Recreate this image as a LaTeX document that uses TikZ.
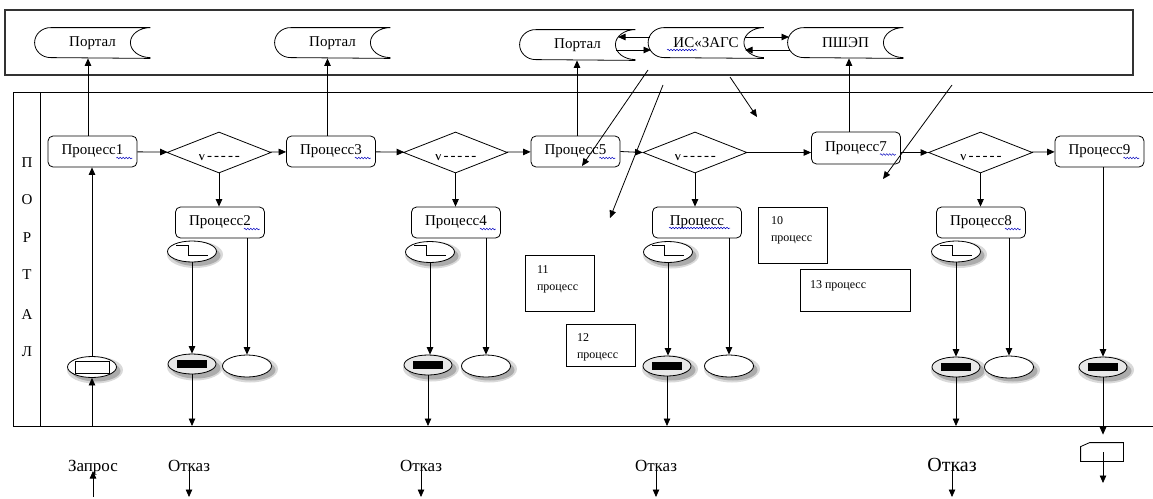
\documentclass[tikz,border=0pt]{standalone}
\usepackage{fontspec}
\setmainfont{Liberation Serif}
\usetikzlibrary{arrows.meta,shapes.geometric,decorations.pathmorphing}
\newcommand\fsA{\fontsize{15}{17}\selectfont}
\newcommand\fsB{\fontsize{17}{20}\selectfont}
\newcommand\fsC{\fontsize{12}{16.5}\selectfont}
\newcommand\fsD{\fontsize{20}{24}\selectfont}
\newcommand\dbshape[1]{%
  \draw ([xshift=16pt]#1.north west) arc[start angle=90,end angle=270,x radius=16pt,y radius=15pt] -- (#1.south east);
  \draw ([xshift=16pt]#1.north west) -- (#1.north east) arc[start angle=90,end angle=270,x radius=20pt,y radius=15pt];}
\newcommand\tmrstep[1]{%
  \draw[line width=0.8pt] ([shift={(-16,-6.5)}]#1.center) -- ([shift={(-4,-6.5)}]#1.center) -- ([shift={(-4,3.5)}]#1.center) -- ([shift={(16,3.5)}]#1.center);}
\newcommand\felrect[1]{\fill ([shift={(-15,-4)}]#1.center) rectangle ([shift={(15,4)}]#1.center);}
\newcommand\procwavy[1]{\draw[wv] ([shift={(-21,6.5)}]#1.east) -- ([shift={(-5,6.5)}]#1.east);}
% shadowed ellipse node: style, name, x, y
\newcommand\shell[4]{%
  \fill[gray!30] (#3+3,#4+3) ellipse[x radius=28pt,y radius=13.5pt];
  \fill[gray!65] (#3+4,#4+4) ellipse[x radius=24.5pt,y radius=10.5pt];
  \node[#1] (#2) at (#3,#4) {};}
\begin{document}
\begin{tikzpicture}[x=1pt,y=-1pt,line width=0.8pt,
  arr/.style={-{Triangle[length=7.5pt,width=6.5pt]}},
  proc/.style={draw,rounded corners=5pt,minimum width=89pt,minimum height=31pt,inner sep=0pt,font=\fsA},
  dec/.style={diamond,draw,aspect=2.5,minimum width=104pt,minimum height=41pt,inner sep=0pt},
  tmr/.style={ellipse,draw,fill=white,minimum width=49pt,minimum height=21pt,inner sep=0pt},
  fel/.style={ellipse,draw,fill=gray!18,minimum width=48pt,minimum height=20pt,inner sep=0pt},
  eel/.style={ellipse,draw,fill=white,minimum width=49pt,minimum height=22pt,inner sep=0pt},
  db/.style={minimum width=115pt,minimum height=30pt,inner sep=0pt,font=\fsA},
  tbox/.style={draw,inner sep=0pt},
  txtc/.style={font=\fsC,inner sep=0pt,anchor=north west,align=left},
  wv/.style={draw=blue!75!black,line width=0.5pt,decorate,decoration={snake,amplitude=0.8pt,segment length=3pt}},
  lt/.style={font=\fsA,inner sep=0pt}]
\useasboundingbox (0,0) rectangle (1153,498);
\fill[white] (0,0) rectangle (1153,498);
% top frame
\draw[gray!40!black,line width=1.2pt] (5,10) rectangle (1133,75);
% lane
\draw (1153,92) -- (13,92) -- (13,426) -- (1153,426);
\draw (40,92) -- (40,426);
\coordinate (lanebot) at (0,426);
\coordinate (botedge) at (0,497);
\node[lt] (L1) at (27,163) {П};
\node[lt] (L2) at (27,200) {О};
\node[lt] (L3) at (27,238) {Р};
\node[lt] (L4) at (27,275) {Т};
\node[lt] (L5) at (27,315) {А};
\node[lt] (L6) at (27,352) {Л};
% top stores
\node[db] (po1) at (92.5,43) {Портал}; \dbshape{po1}
\node[db] (po2) at (332.5,43) {Портал}; \dbshape{po2}
\node[db] (po3) at (577.5,45) {Портал}; \dbshape{po3}
\node[db] (zags) at (706,43) {ИС«ЗАГС}; \dbshape{zags}
\node[db] (pshep) at (845.5,43) {ПШЭП}; \dbshape{pshep}
\draw[wv] ([shift={(-39,7)}]zags.center) -- ([shift={(-9,7)}]zags.center);
\coordinate (c1a) at (650,37); \coordinate (c1b) at (618,37);
\coordinate (c2a) at (616,50); \coordinate (c2b) at (651,50);
\coordinate (c3a) at (745,37); \coordinate (c3b) at (789,37);
\coordinate (c4a) at (790,50); \coordinate (c4b) at (745,50);
\draw[arr] (c1a) -- (c1b);
\draw[arr] (c2a) -- (c2b);
\draw[arr] (c3a) -- (c3b);
\draw[arr] (c4a) -- (c4b);
% main row
\node[proc] (p1) at (92.5,151.5) {Процесс1};
\node[dec] (d1) at (219,152.5) {};
\node[proc] (p3) at (331,151.5) {Процесс3};
\node[dec] (d2) at (455.5,152.5) {};
\node[proc] (p5) at (575.5,151.5) {Процесс5};
\node[dec] (d3) at (695,152.5) {};
\node[proc,minimum height=32pt] (p7) at (856,148) {Процесс7};
\node[dec] (d4) at (980.5,152.5) {};
\node[proc] (p9) at (1099.5,151.5) {Процесс9};
\foreach \d in {d1,d2,d3,d4}{
  \begin{scope}
    \clip ([shift={(-35,1.5)}]\d.center) rectangle ([shift={(35,15)}]\d.center);
    \node[font=\fsA,inner sep=0pt,anchor=base] (\d t) at ([yshift=-8pt]\d.center) {v\kern1.5pt-\kern2pt-\kern2pt-\kern2pt-\kern2pt-};
  \end{scope}}
\procwavy{p1}\procwavy{p3}\procwavy{p5}\procwavy{p7}\procwavy{p9}
\draw[arr] (p1) -- (d1);
\draw[arr] (d1) -- (p3);
\draw[arr] (p3) -- (d2);
\draw[arr] (d2) -- (p5);
\draw[arr] (p5.east) -- (d3.west);
\draw[arr] (d3.east) -- (d3.east -| p7.west);
\draw[arr] (d4.west -| p7.east) -- (d4.west);
\draw[arr] (d4) -- (p9);
% up to stores
\draw[arr] ([xshift=-4.5pt]p1.north) -- ([xshift=-4.5pt]p1.north |- po1.south);
\draw[arr] ([xshift=-3.5pt]p3.north) -- ([xshift=-3.5pt]p3.north |- po2.south);
\draw[arr] ([xshift=1.5pt]p5.north) -- ([xshift=1.5pt]p5.north |- po3.south);
\draw[arr] ([xshift=-7pt]p7.north) -- ([xshift=-7pt]p7.north |- pshep.south);
% sub processes
\node[proc] (p2) at (220,222.5) {Процесс2};
\node[proc] (p4) at (456,222.5) {Процесс4};
\node[proc] (p6) at (697,222.5) {Процесс};
\node[proc] (p8) at (981,222.5) {Процесс8};
\procwavy{p2}\procwavy{p4}\procwavy{p8}
\draw[wv] ([shift={(-28,5.5)}]p6.center) -- ([shift={(33,5.5)}]p6.center);
\draw[arr] (d1.south) -- (d1.south |- p2.north);
\draw[arr] (d2.south) -- (d2.south |- p4.north);
\draw[arr] (d3.south) -- (d3.south |- p6.north);
\draw[arr] (d4.south) -- (d4.south |- p8.north);
% timers
\shell{tmr}{t2}{192}{251.5} \tmrstep{t2}
\shell{tmr}{t4}{430}{252} \tmrstep{t4}
\shell{tmr}{t6}{668}{252} \tmrstep{t6}
\shell{tmr}{t8}{956}{251.5} \tmrstep{t8}
% bottom ellipses
\shell{fel}{f2}{192}{364} \felrect{f2}
\shell{fel}{f4}{428}{365} \felrect{f4}
\shell{fel}{f6}{667}{366} \felrect{f6}
\shell{fel}{f8}{956}{367} \felrect{f8}
\shell{fel}{f9}{1103}{367} \felrect{f9}
\shell{eel}{e2}{247}{366}
\shell{eel}{e4}{486}{366}
\shell{eel}{e6}{729}{366}
\shell{eel}{e8}{1009}{367}
\shell{tmr}{s}{92}{367}
\draw[fill=white] ([shift={(-17,-6)}]s.center) rectangle ([shift={(17,6)}]s.center);
\draw[arr] (t2.south) -- (t2.south |- f2.north);
\draw[arr] (t4.south) -- (t4.south |- f4.north);
\draw[arr] (t6.south) -- (t6.south |- f6.north);
\draw[arr] (t8.south) -- (t8.south |- f8.north);
\draw[arr] (e2.north |- p2.south) -- (e2.north);
\draw[arr] (e4.north |- p4.south) -- (e4.north);
\draw[arr] (e6.north |- p6.south) -- (e6.north);
\draw[arr] (e8.north |- p8.south) -- (e8.north);
\draw[arr] (f9.north |- p9.south) -- (f9.north);
\draw[arr] (s.north) -- (s.north |- p1.south);
\draw[arr] (s.south |- lanebot) -- (s.south);
\draw[arr] (f2.south) -- (f2.south |- lanebot);
\draw[arr] (f4.south) -- (f4.south |- lanebot);
\draw[arr] (f6.south) -- (f6.south |- lanebot);
\draw[arr] (f8.south) -- (f8.south |- lanebot);
% diagonal arrows from ИС ЗАГС
\coordinate (a1s) at (648,70); \coordinate (a1e) at (582,166);
\coordinate (a2s) at (663,85); \coordinate (a2e) at (610,218);
\coordinate (a3s) at (730,77); \coordinate (a3e) at (757,117);
\coordinate (a4s) at (952,85); \coordinate (a4e) at (883,179);
\draw[arr] (a1s) -- (a1e);
\draw[arr] (a2s) -- (a2e);
\draw[arr] (a3s) -- (a3e);
\draw[arr] (a4s) -- (a4e);
% text boxes
\node[tbox,minimum width=69pt,minimum height=56pt] (b10) at (792.5,235) {};
\node[txtc] (b10t) at ([shift={(13,10)}]b10.north west) {10\\процесс};
\node[tbox,minimum width=69pt,minimum height=56pt] (b11) at (559.5,283) {};
\node[txtc] (b11t) at ([shift={(12,11)}]b11.north west) {11\\процесс};
\node[tbox,minimum width=69pt,minimum height=42pt] (b12) at (600.5,345) {};
\node[txtc] (b12t) at ([shift={(11,10)}]b12.north west) {12\\процесс};
\node[tbox,minimum width=110pt,minimum height=42pt] (b13) at (855,290) {};
\node[txtc] (b13t) at ([shift={(10,12)}]b13.north west) {13 процесс};
% bottom labels
\node[font=\fsB,inner sep=0pt,anchor=base] (zap) at (93,471) {Запрос};
\node[font=\fsB,inner sep=0pt,anchor=base] (o2) at (189,471) {Отказ};
\node[font=\fsB,inner sep=0pt,anchor=base] (o4) at (421,471) {Отказ};
\node[font=\fsB,inner sep=0pt,anchor=base] (o6) at (656,471) {Отказ};
\node[font=\fsD,inner sep=0pt,anchor=base] (o8) at (952,471) {Отказ};
\coordinate (zin) at (93,497);
\draw[arr] (zin) -- ([yshift=4pt]zap.south);
\draw[arr] (o2.center) -- (o2.center |- botedge);
\draw[arr] (o4.center) -- (o4.center |- botedge);
\draw[arr] (o6.center) -- (o6.center |- botedge);
\draw[arr] (o8.center) -- (o8.center |- botedge);
% off-page connector
\node[minimum width=42pt,minimum height=18pt,inner sep=0pt] (opc) at (1102,452) {};
\draw (opc.south west) -- ([yshift=-4pt]opc.north west) -- ([xshift=9pt]opc.north west) -- (opc.north east) -- (opc.south east) -- cycle;
\draw[arr] (f9.south) -- ([yshift=8pt]f9.south |- opc.north);
\coordinate (opcend) at (1103,483);
\draw[arr] (opcend |- opc.center) -- (opcend);
\end{tikzpicture}
\end{document}
